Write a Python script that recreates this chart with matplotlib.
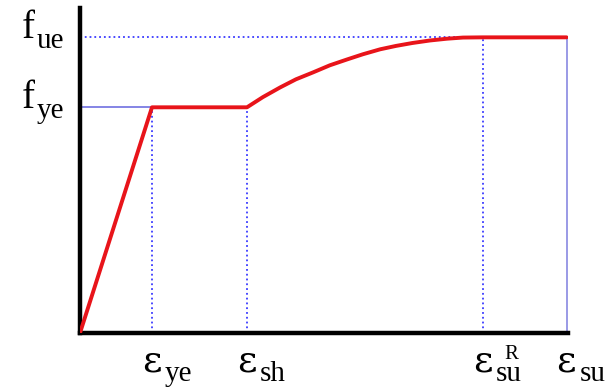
import matplotlib
matplotlib.use("Agg")
import matplotlib.pyplot as plt

plt.rcParams['font.family'] = 'Liberation Serif'

# характерные точки диаграммы (условные единицы)
eps_ye = 1.0
eps_sh = 2.32
eps_su_R = 5.6
eps_su = 6.76
f_ye = 1.0
f_ue = 1.31

# участок упрочнения
hard_x = [2.32, 2.54, 2.78, 3.0, 3.24, 3.47, 3.71, 3.93, 4.17, 4.39, 4.62, 4.86, 5.10, 5.32, 5.60]
hard_y = [1.0, 1.045, 1.088, 1.124, 1.155, 1.186, 1.212, 1.235, 1.257, 1.272, 1.285, 1.296,
          1.304, 1.309, 1.31]

curve_x = [0, eps_ye] + hard_x + [eps_su]
curve_y = [0, f_ye] + hard_y + [f_ue]

# подписи: основной символ, индекс, верхний индекс
x_marks = [eps_ye, eps_sh, eps_su_R, eps_su]
x_main = ['ε', 'ε', 'ε', 'ε']
x_sub = ['ye', 'sh', 'su', 'su']
x_sup = ['', '', 'R', '']
y_marks = [f_ye, f_ue]
y_main = ['f', 'f']
y_sub = ['ye', 'ue']

fig = plt.figure(figsize=(6.09, 3.89), dpi=100)
ax = fig.add_axes([80 / 609, 56 / 389, 488 / 609, 325 / 389])
ax.set_xlim(0, 6.78)
ax.set_ylim(0, 1.44)

blue = '#3a3aff'
# вспомогательные линии
ax.plot([0, eps_ye], [f_ye, f_ye], color='#7070e0', lw=1.2)
ax.plot([0, eps_su_R], [f_ue, f_ue], color=blue, lw=1.3, ls=':')
for xv in [eps_ye, eps_sh]:
    ax.plot([xv, xv], [0, f_ye], color=blue, lw=1.3, ls=':')
ax.plot([eps_su_R, eps_su_R], [0, f_ue], color=blue, lw=1.3, ls=':')
ax.plot([eps_su, eps_su], [0, f_ue], color='#9a9ae6', lw=1.4)

ax.plot(curve_x, curve_y, color='#e8141a', lw=2.8, solid_capstyle='round',
        solid_joinstyle='round', zorder=3)

for s in ['top', 'right']:
    ax.spines[s].set_visible(False)
for s in ['left', 'bottom']:
    ax.spines[s].set_linewidth(3.2)
ax.set_xticks([])
ax.set_yticks([])

kw = dict(xycoords='data', textcoords='offset pixels', va='baseline',
          ha='left', annotation_clip=False)
for xv, m, sb, sp in zip(x_marks, x_main, x_sub, x_sup):
    ax.annotate(m, xy=(xv, 0), xytext=(-10, -39), fontsize=27, family='DejaVu Serif', **kw)
    ax.annotate(sb, xy=(xv, 0), xytext=(13, -48), fontsize=21, **kw)
    if sp:
        ax.annotate(sp, xy=(xv, 0), xytext=(21, -26), fontsize=15, **kw)
for yv, m, sb in zip(y_marks, y_main, y_sub):
    ax.annotate(m, xy=(0, yv), xytext=(-58, -1), fontsize=28, **kw)
    ax.annotate(sb, xy=(0, yv), xytext=(-43, -11), fontsize=21, **kw)

fig.savefig('out.png', dpi=100)
